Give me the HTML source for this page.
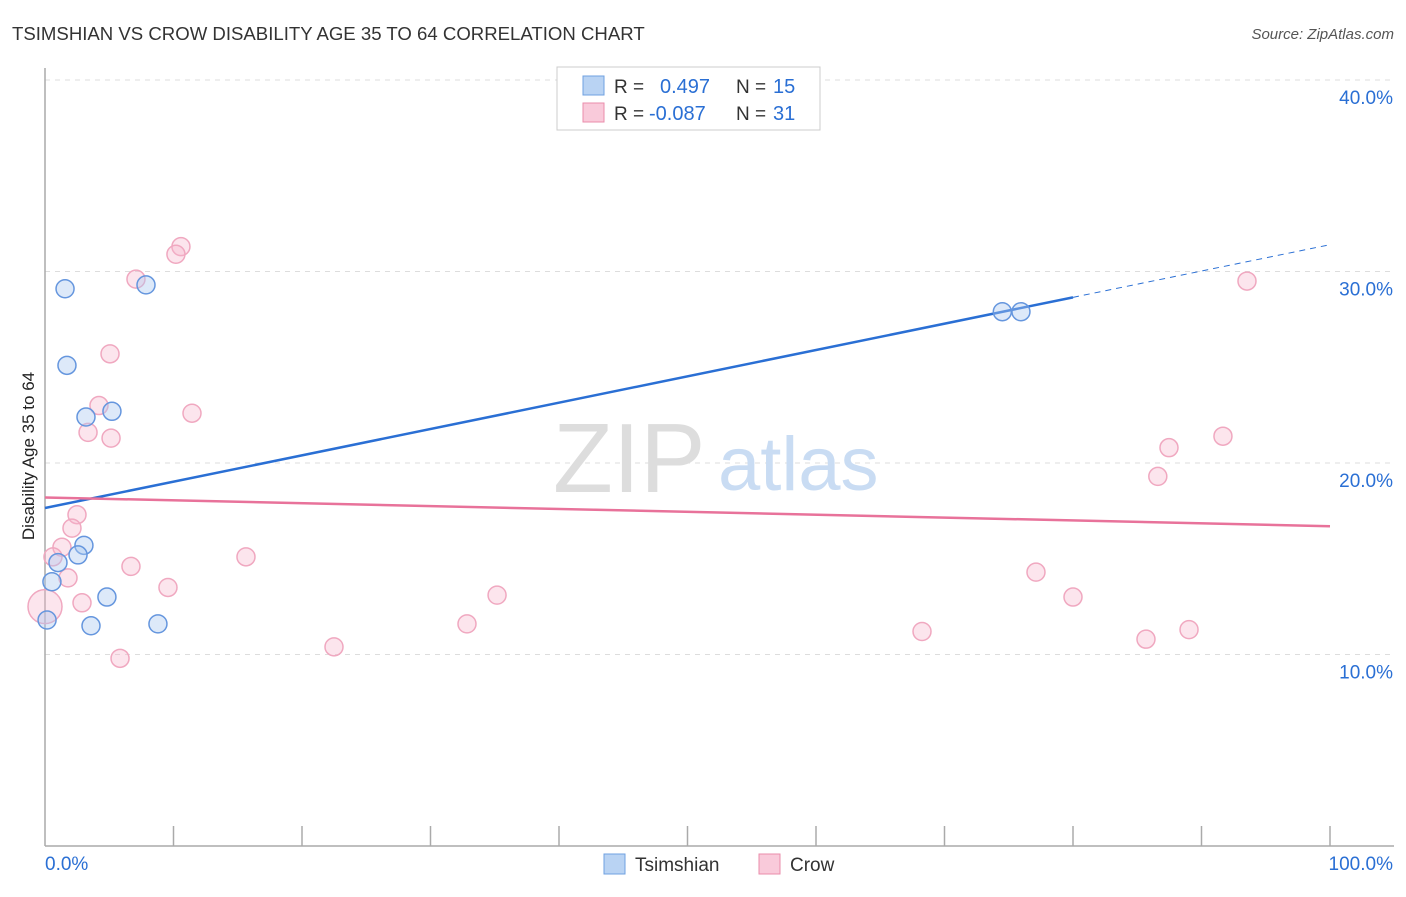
<!DOCTYPE html>
<html><head><meta charset="utf-8"><style>
body{margin:0;background:#fff;font-family:"Liberation Sans",sans-serif;}
svg text{font-family:"Liberation Sans",sans-serif;}
</style></head><body>
<svg id="chart" width="1406" height="892" viewBox="0 0 1406 892">
<text x="12" y="40" font-size="18.6" fill="#333">TSIMSHIAN VS CROW DISABILITY AGE 35 TO 64 CORRELATION CHART</text>
<text x="1394" y="39" font-size="15" fill="#555" font-style="italic" text-anchor="end">Source: ZipAtlas.com</text>
<g id="grid"></g>
<line x1="45" y1="68" x2="45" y2="846" stroke="#aaa" stroke-width="1.5"/>
<line x1="45" y1="846" x2="1394" y2="846" stroke="#aaa" stroke-width="1.5"/>
<text x="34" y="456" font-size="17" fill="#222" text-anchor="middle" transform="rotate(-90 34 456)">Disability Age 35 to 64</text>
<text x="553" y="492" font-size="98" fill="#ddd" font-family="Liberation Serif">ZIP</text>
<text x="718" y="490" font-size="76" fill="#c9dcf3">atlas</text>
<g id="ticks"></g>
<g id="trends"></g>
<g id="points"></g>
<g>
<rect x="557" y="67" width="263" height="63" fill="#fff" stroke="#ccc"/>
<rect x="583" y="76" width="21" height="19" fill="#b9d3f3" stroke="#6fa0e0"/>
<rect x="583" y="103" width="21" height="19" fill="#f9cada" stroke="#ea8cab"/>
<text x="614" y="93" font-size="19" fill="#333">R = </text><text x="660" y="93" font-size="20" fill="#2a6fd4">0.497</text>
<text x="736" y="93" font-size="19" fill="#333">N = </text><text x="773" y="93" font-size="20" fill="#2a6fd4">15</text>
<text x="614" y="120" font-size="19" fill="#333">R = </text><text x="649" y="120" font-size="20" fill="#2a6fd4">-0.087</text>
<text x="736" y="120" font-size="19" fill="#333">N = </text><text x="773" y="120" font-size="20" fill="#2a6fd4">31</text>
</g>
<g>
<rect x="604" y="854" width="21" height="20" fill="#b9d3f3" stroke="#6fa0e0"/>
<text x="635" y="871" font-size="19" fill="#333">Tsimshian</text>
<rect x="759" y="854" width="21" height="20" fill="#f9cada" stroke="#ea8cab"/>
<text x="790" y="871" font-size="19" fill="#333">Crow</text>
</g>
</svg>
<script>
const yTicks=[10,20,30,40];
const yTickLabels=["10.0%","20.0%","30.0%","40.0%"];
const xTickLabels=["0.0%","100.0%"];
const tsX=[1.56,1.71,3.19,5.21,7.86,3.03,2.57,1.01,0.54,4.82,3.58,8.79,0.16,74.5,75.95];
const tsY=[29.1,25.1,22.4,22.7,29.3,15.7,15.2,14.8,13.8,13.0,11.5,11.6,11.8,27.9,27.9];
const crX=[10.58,10.19,7.08,5.06,11.44,4.2,3.35,5.14,2.49,2.1,1.32,0.62,1.79,2.88,0,6.69,9.57,15.64,5.84,22.49,32.84,35.18,68.25,77.12,80.0,85.68,89.03,86.6,87.47,91.67,93.54];
const crY=[31.3,30.9,29.6,25.7,22.6,23.0,21.6,21.3,17.3,16.6,15.6,15.1,14.0,12.7,12.5,14.6,13.5,15.1,9.8,10.4,11.6,13.1,11.2,14.3,13.0,10.8,11.3,19.3,20.8,21.4,29.5];
const crR=[9,9,9,9,9,9,9,9,9,9,9,9,9,9,17,9,9,9,9,9,9,9,9,9,9,9,9,9,9,9,9];
const tsTrend=[17.65,31.4];
const crTrend=[18.2,16.7];
const tsSolidEnd=80;
const NS="http://www.w3.org/2000/svg";
const xs=v=>45+v*12.85, ys=v=>846-v*19.15;
function mk(tag,attrs,parent){const e=document.createElementNS(NS,tag);for(const k in attrs)e.setAttribute(k,attrs[k]);document.getElementById(parent).appendChild(e);return e;}
yTicks.forEach((t,i)=>{
 const l=mk('line',{x1:45,x2:1394,y1:ys(t),y2:ys(t),stroke:'#ddd','stroke-dasharray':'5,5'},'grid');
 
 
 const tx=mk('text',{x:1393,y:ys(t)+24,'font-size':19,fill:'#2a6fd4','text-anchor':'end'},'ticks');
 tx.textContent=yTickLabels[i];
 
 
});
for(let i=1;i<=10;i++){
 const l=mk('line',{x1:xs(i*10),x2:xs(i*10),y1:826,y2:846,stroke:'#aaa','stroke-width':1.5},'ticks');
 
 
}
const xl0=mk('text',{x:45,y:870,'font-size':19,fill:'#2a6fd4'},'ticks');xl0.textContent=xTickLabels[0];


const xl1=mk('text',{x:1393,y:870,'font-size':19,fill:'#2a6fd4','text-anchor':'end'},'ticks');xl1.textContent=xTickLabels[1];


crX.forEach((x,i)=>{const c=mk('circle',{cx:xs(x),cy:ys(crY[i]),r:crR[i],fill:'rgba(246,180,202,0.35)',stroke:'#f0a8c0','stroke-width':1.5},'points');
 
 });
tsX.forEach((x,i)=>{const c=mk('circle',{cx:xs(x),cy:ys(tsY[i]),r:9,fill:'rgba(170,200,240,0.4)',stroke:'#6596de','stroke-width':1.5},'points');
 
 });
const tv=x=>tsTrend[0]+(tsTrend[1]-tsTrend[0])*x/100;
const t1=mk('line',{x1:xs(0),y1:ys(tv(0)),x2:xs(tsSolidEnd),y2:ys(tv(tsSolidEnd)),stroke:'#2a6fd4','stroke-width':2.5},'trends');


const t2=mk('line',{x1:xs(tsSolidEnd),y1:ys(tv(tsSolidEnd)),x2:xs(100),y2:ys(tv(100)),stroke:'#2a6fd4','stroke-width':1,'stroke-dasharray':'6,5'},'trends');


const t3=mk('line',{x1:xs(0),y1:ys(crTrend[0]),x2:xs(100),y2:ys(crTrend[1]),stroke:'#e8729a','stroke-width':2.5},'trends');


</script>
</body></html>
